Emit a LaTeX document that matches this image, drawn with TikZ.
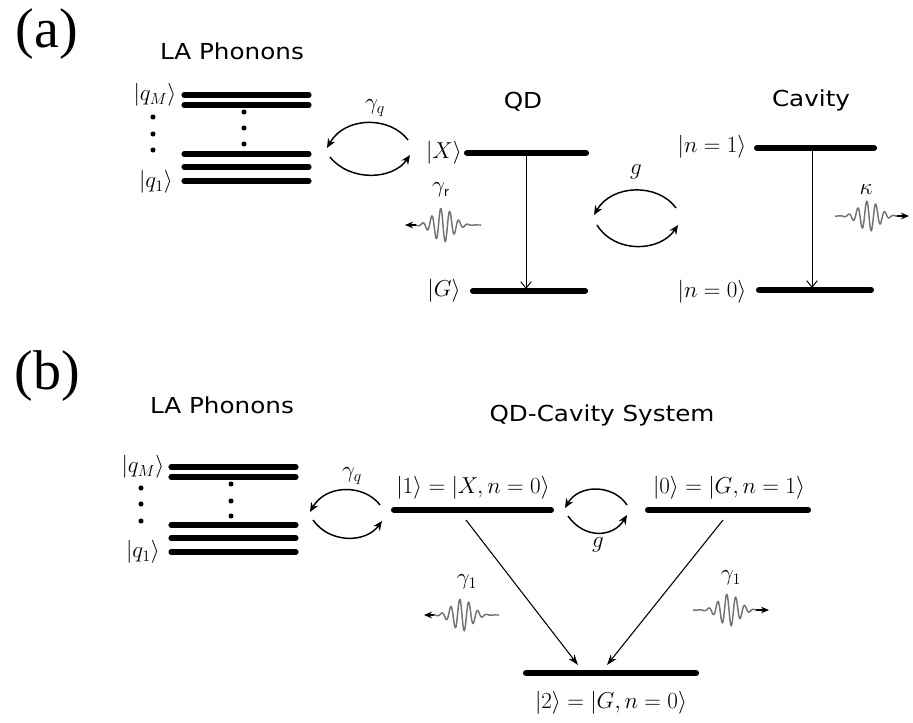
\documentclass[tikz,border=0pt]{standalone}
\usepackage{fontspec}
\setmainfont{Liberation Serif}
\newfontfamily\labfont[FakeStretch=1.12]{DejaVu Sans}
\usetikzlibrary{arrows.meta}
\newcommand\photon[5]{% xstart xend xcenter ycenter amplitude
  \draw[wv] plot[domain=#1:#2,samples=220,smooth] (\x,{#4+#5*exp(-((\x-#3)/14)*((\x-#3)/14))*sin(40*(\x-#3))});}
\begin{document}
\begin{tikzpicture}[x=0.75pt,y=-0.75pt,
  lev/.style={line width=4.6pt,line cap=round},
  phl/.style={line width=3.8pt,line cap=round},
  ttl/.style={font=\labfont\fontsize{16.5}{18}\selectfont},
  big/.style={font=\fontsize{42}{48}\selectfont},
  ket/.style={font=\fontsize{17}{19}\selectfont, inner sep=0pt},
  swap/.style={line width=1.1pt, -{Stealth[length=7pt,width=6pt]}},
  decay/.style={line width=0.7pt, -{Straight Barb[length=5pt,width=8pt]}},
  diag/.style={line width=0.8pt, -{Stealth[length=8pt,width=5.5pt]}},
  emit/.style={line width=0.8pt, -{Stealth[length=6pt,width=5pt]}},
  wv/.style={black!55, line width=1.1pt},
  dot/.style={circle, fill, inner sep=0pt, minimum size=3.8pt},
]
\useasboundingbox (0,0) rectangle (913,722);

% ---------------- (a) ----------------
\node[big] (la) at (47,34) {(a)};
\node[ttl] (phA) at (232,51) {LA Phonons};
\node[ttl] (qdA) at (523,102) {QD};
\node[ttl] (cavA) at (811,100) {Cavity};

\foreach \y [count=\i] in {95,105,154,167,181}{
  \coordinate (pa\i l) at (184,\y); \coordinate (pa\i r) at (309,\y);
  \draw[phl] (pa\i l) -- (pa\i r);
}
\foreach \y [count=\i] in {117,134,150}{ \node[dot] (dal\i) at (153,\y) {}; }
\foreach \y [count=\i] in {112,128,144}{ \node[dot] (dam\i) at (244,\y) {}; }
\node[ket] (qMa) at (155,95) {$|q_M\rangle$};
\node[ket] (q1a) at (156,182) {$|q_1\rangle$};

% gamma_q arcs (a)
\coordinate (gqa1) at (408,140); \coordinate (gqa2) at (327,148);
\coordinate (gqa3) at (330,157); \coordinate (gqa4) at (410,155);
\draw[swap] (gqa1) .. controls (390,116) and (345,116) .. (gqa2);
\draw[swap] (gqa3) .. controls (350,182) and (393,180) .. (gqa4);
\node[ket] (gqA) at (375,108) {$\gamma_q$};

% QD levels
\coordinate (Xl) at (467,153); \coordinate (Xr) at (586,153);
\coordinate (Gl) at (473,291); \coordinate (Gr) at (585,291);
\draw[lev] (Xl) -- (Xr);
\draw[lev] (Gl) -- (Gr);
\node[ket] (Xk) at (444,153) {$|X\rangle$};
\node[ket] (Gk) at (444,291) {$|G\rangle$};
\coordinate (qdt) at (526,156); \coordinate (qdb) at (526,289);
\draw[decay] (qdt) -- (qdb);

% gamma_r photon
\node[ket] (grA) at (441,190) {$\gamma_{\mathsf{r}}$};
\photon{413}{481}{443}{225}{17}
\coordinate (gra1) at (416,225); \coordinate (gra2) at (405,225);
\draw[emit] (gra1) -- (gra2);

% g arcs (a)
\coordinate (ga1) at (676,208); \coordinate (ga2) at (594,215);
\coordinate (ga3) at (597,225); \coordinate (ga4) at (678,225);
\draw[swap] (ga1) .. controls (658,183) and (612,184) .. (ga2);
\draw[swap] (ga3) .. controls (615,254) and (660,252) .. (ga4);
\node[ket] (gA) at (636,172) {$g$};

% Cavity levels
\coordinate (n1l) at (757,148); \coordinate (n1r) at (874,148);
\coordinate (n0l) at (759,290); \coordinate (n0r) at (871,290);
\draw[lev] (n1l) -- (n1r);
\draw[lev] (n0l) -- (n0r);
\node[ket] (n1k) at (712,147) {$|n=1\rangle$};
\node[ket] (n0k) at (712,292) {$|n=0\rangle$};
\coordinate (cvt) at (812,150); \coordinate (cvb) at (812,288);
\draw[decay] (cvt) -- (cvb);

% kappa photon
\node[ket] (kA) at (866,190) {$\kappa$};
\photon{835}{900}{869}{216}{15}
\coordinate (ka1) at (897,216); \coordinate (ka2) at (909,216);
\draw[emit] (ka1) -- (ka2);

% ---------------- (b) ----------------
\node[big] (lb) at (47,376) {(b)};
\node[ttl] (phB) at (222,405) {LA Phonons};
\node[ttl] (sysB) at (602,415) {QD-Cavity System};

\foreach \y [count=\i] in {467,477,525,538,552}{
  \coordinate (pb\i l) at (171,\y); \coordinate (pb\i r) at (296,\y);
  \draw[phl] (pb\i l) -- (pb\i r);
}
\foreach \y [count=\i] in {488,504,521}{ \node[dot] (dbl\i) at (141,\y) {}; }
\foreach \y [count=\i] in {484,501,516}{ \node[dot] (dbm\i) at (231,\y) {}; }
\node[ket] (qMb) at (143,467) {$|q_M\rangle$};
\node[ket] (q1b) at (143,552) {$|q_1\rangle$};

% gamma_q arcs (b)
\coordinate (gqb1) at (380,505); \coordinate (gqb2) at (310,512);
\coordinate (gqb3) at (313,520); \coordinate (gqb4) at (382,521);
\draw[swap] (gqb1) .. controls (364,484) and (326,484) .. (gqb2);
\draw[swap] (gqb3) .. controls (330,544) and (366,543) .. (gqb4);
\node[ket] (gqB) at (352,476) {$\gamma_q$};

% levels (b)
\coordinate (L1l) at (394,510); \coordinate (L1r) at (551,510);
\coordinate (L0l) at (648,510); \coordinate (L0r) at (808,510);
\coordinate (L2l) at (526,673); \coordinate (L2r) at (696,673);
\draw[lev] (L1l) -- (L1r);
\draw[lev] (L0l) -- (L0r);
\draw[lev] (L2l) -- (L2r);
\node[ket] (k1) at (473,488) {$|1\rangle = |X, n = 0\rangle$};
\node[ket] (k0) at (729,488) {$|0\rangle = |G, n = 1\rangle$};
\node[ket] (k2) at (611,703) {$|2\rangle = |G, n = 0\rangle$};

% g arcs (b)
\coordinate (gb1) at (627,505); \coordinate (gb2) at (565,508);
\coordinate (gb3) at (568,516); \coordinate (gb4) at (627,515);
\draw[swap] (gb1) .. controls (613,484) and (579,484) .. (gb2);
\draw[swap] (gb3) .. controls (584,539) and (613,538) .. (gb4);
\node[ket] (gB) at (598,545) {$g$};

% diagonal decays
\coordinate (d1s) at (466,520); \coordinate (d1e) at (578,665);
\coordinate (d2s) at (723,520); \coordinate (d2e) at (607,665);
\draw[diag] (d1s) -- (d1e);
\draw[diag] (d2s) -- (d2e);

% gamma_1 photons
\node[ket] (g1l) at (467,582) {$\gamma_1$};
\photon{431}{499}{462}{615}{16}
\coordinate (e1a) at (434,615); \coordinate (e1b) at (424,615);
\draw[emit] (e1a) -- (e1b);
\node[ket] (g1r) at (731,578) {$\gamma_1$};
\photon{693}{760}{729}{610}{16}
\coordinate (e2a) at (756,610); \coordinate (e2b) at (769,610);
\draw[emit] (e2a) -- (e2b);
\end{tikzpicture}
\end{document}
